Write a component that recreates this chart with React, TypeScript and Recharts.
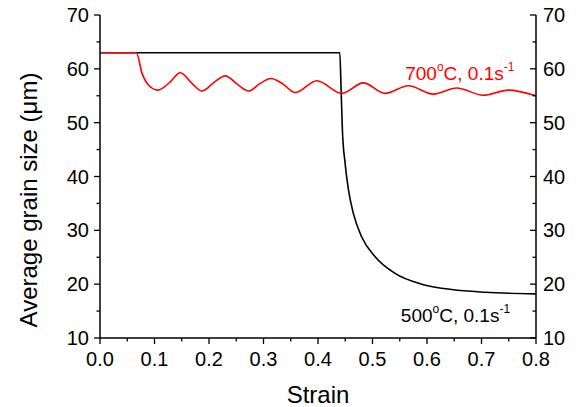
import React from 'react';
import { LineChart, Line, XAxis, YAxis, ReferenceDot } from 'recharts';

// 700 C curve
const redStrain = [0, 0.0667, 0.077, 0.089, 0.1063, 0.129, 0.1472, 0.1687, 0.187, 0.2083, 0.2297, 0.254, 0.2725, 0.294, 0.3135, 0.334, 0.358, 0.398, 0.4437, 0.4833, 0.523, 0.566, 0.6117, 0.6546, 0.703, 0.749, 0.8];
const redSize = [63, 63, 59.2, 57.0, 56.05, 57.6, 59.27, 57.3, 55.87, 57.4, 58.7, 56.96, 55.87, 57.3, 58.2, 57.3, 55.6, 57.8, 55.44, 57.4, 55.44, 56.85, 55.3, 56.43, 55.1, 56.05, 55.0];

// 500 C curve
const blackStrain = [0, 0.44, 0.4424, 0.4448, 0.4498, 0.4559, 0.465, 0.48, 0.5048, 0.5414, 0.59, 0.6454, 0.7065, 0.8];
const blackSize = [63, 63, 56.05, 48.6, 42.4, 37.5, 33.1, 28.8, 25.1, 22.0, 20.0, 19.0, 18.5, 18.2];

const xTicks = [0, 0.05, 0.1, 0.15, 0.2, 0.25, 0.3, 0.35, 0.4, 0.45, 0.5, 0.55, 0.6, 0.65, 0.7, 0.75, 0.8];
const yTicks = [10, 15, 20, 25, 30, 35, 40, 45, 50, 55, 60, 65, 70];

const redData = redStrain.map((s, i) => ({ s, v: redSize[i] }));
const blackData = blackStrain.map((s, i) => ({ s, v: blackSize[i] }));

const FONT = '"Liberation Sans", Arial, sans-serif';
const AX = { stroke: '#000', strokeWidth: 1.5 };

const isMajorX = (v: number) => Math.abs(Math.round(v * 10) - v * 10) < 1e-6;

const LeftTick = ({ x, y, payload }: any) => {
  const major = payload.value % 10 === 0;
  return (
    <g>
      <line x1={x} x2={x - (major ? 6 : 3.5)} y1={y} y2={y} stroke="#000" strokeWidth={1.3} />
      {major && (
        <text x={x - 11} y={y} dy={7} textAnchor="end" fontSize={20} fontFamily={FONT} fill="#000">
          {payload.value}
        </text>
      )}
    </g>
  );
};

const RightTick = ({ x, y, payload }: any) => {
  const major = payload.value % 10 === 0;
  return (
    <g>
      <line x1={x} x2={x - (major ? 6 : 3.5)} y1={y} y2={y} stroke="#000" strokeWidth={1.3} />
      {major && (
        <text x={x + 7} y={y} dy={7} textAnchor="start" fontSize={20} fontFamily={FONT} fill="#000">
          {payload.value}
        </text>
      )}
    </g>
  );
};

const BottomTick = ({ x, y, payload }: any) => {
  const major = isMajorX(payload.value);
  return (
    <g>
      <line x1={x} x2={x} y1={y} y2={y + (major ? 6 : 3.5)} stroke="#000" strokeWidth={1.3} />
      {major && (
        <text x={x} y={y + 28} textAnchor="middle" fontSize={20} fontFamily={FONT} fill="#000">
          {payload.value.toFixed(1)}
        </text>
      )}
    </g>
  );
};

const TopTick = ({ x, y, payload }: any) => {
  const major = isMajorX(payload.value);
  return <line x1={x} x2={x} y1={y} y2={y + (major ? 6 : 4)} stroke="#000" strokeWidth={1.3} />;
};

const annotation = (temp: string, color: string) => (props: any) => {
  const { x, y } = props.viewBox;
  return (
    <text x={x} y={y} fontSize={19} fontFamily={FONT} fill={color}>
      <tspan>{temp}</tspan>
      <tspan dy={-9} fontSize={12}>o</tspan>
      <tspan dy={9}>C, 0.1s</tspan>
      <tspan dy={-9} fontSize={12}>-1</tspan>
    </text>
  );
};

export default function App() {
  return (
    <div style={{ position: 'absolute', left: 0, top: 0 }}>
      <LineChart width={579} height={407} margin={{ top: 15, right: 0, bottom: 0, left: 0 }}>
        <XAxis
          xAxisId={0}
          type="number"
          dataKey="s"
          domain={[0, 0.8]}
          ticks={xTicks}
          interval={0}
          height={69}
          axisLine={AX}
          tickLine={false}
          tickSize={0}
          tickMargin={0}
          tick={<BottomTick />}
          label={{
            content: (p: any) => (
              <text
                x={p.viewBox.x + p.viewBox.width / 2}
                y={p.viewBox.y + 65}
                textAnchor="middle"
                fontSize={24}
                fontFamily={FONT}
                fill="#000"
              >
                Strain
              </text>
            ),
          }}
        />
        <XAxis
          xAxisId="top"
          orientation="top"
          type="number"
          dataKey="s"
          domain={[0, 0.8]}
          ticks={xTicks}
          interval={0}
          height={0}
          axisLine={AX}
          tickLine={false}
          tickSize={0}
          tickMargin={0}
          tick={<TopTick />}
        />
        <YAxis
          yAxisId={0}
          type="number"
          domain={[10, 70]}
          ticks={yTicks}
          interval={0}
          width={100}
          axisLine={AX}
          tickLine={false}
          tickSize={0}
          tickMargin={0}
          tick={<LeftTick />}
          label={{
            content: () => (
              <text
                x={29}
                y={200}
                dy={8}
                transform="rotate(-90, 29, 200)"
                textAnchor="middle"
                fontSize={24}
                fontFamily={FONT}
                fill="#000"
              >
                Average grain size (μm)
              </text>
            ),
          }}
        />
        <YAxis
          yAxisId="right"
          orientation="right"
          type="number"
          domain={[10, 70]}
          ticks={yTicks}
          interval={0}
          width={43}
          axisLine={AX}
          tickLine={false}
          tickSize={0}
          tickMargin={0}
          tick={<RightTick />}
        />
        {/* invisible copy so the mirror axes get their ticks */}
        <Line
          data={blackData}
          dataKey="v"
          xAxisId="top"
          yAxisId="right"
          stroke="none"
          dot={false}
          activeDot={false}
          isAnimationActive={false}
        />
        <Line
          data={blackData}
          dataKey="v"
          type="monotone"
          stroke="#000"
          strokeWidth={1.6}
          dot={false}
          isAnimationActive={false}
        />
        <Line
          data={redData}
          dataKey="v"
          type="monotone"
          stroke="#ff0000"
          strokeWidth={1.6}
          dot={false}
          isAnimationActive={false}
        />
        <ReferenceDot x={0.56} y={58.0} r={0} fill="none" stroke="none" label={annotation('700', '#ff0000')} />
        <ReferenceDot x={0.552} y={12.97} r={0} fill="none" stroke="none" label={annotation('500', '#000')} />
      </LineChart>
    </div>
  );
}
